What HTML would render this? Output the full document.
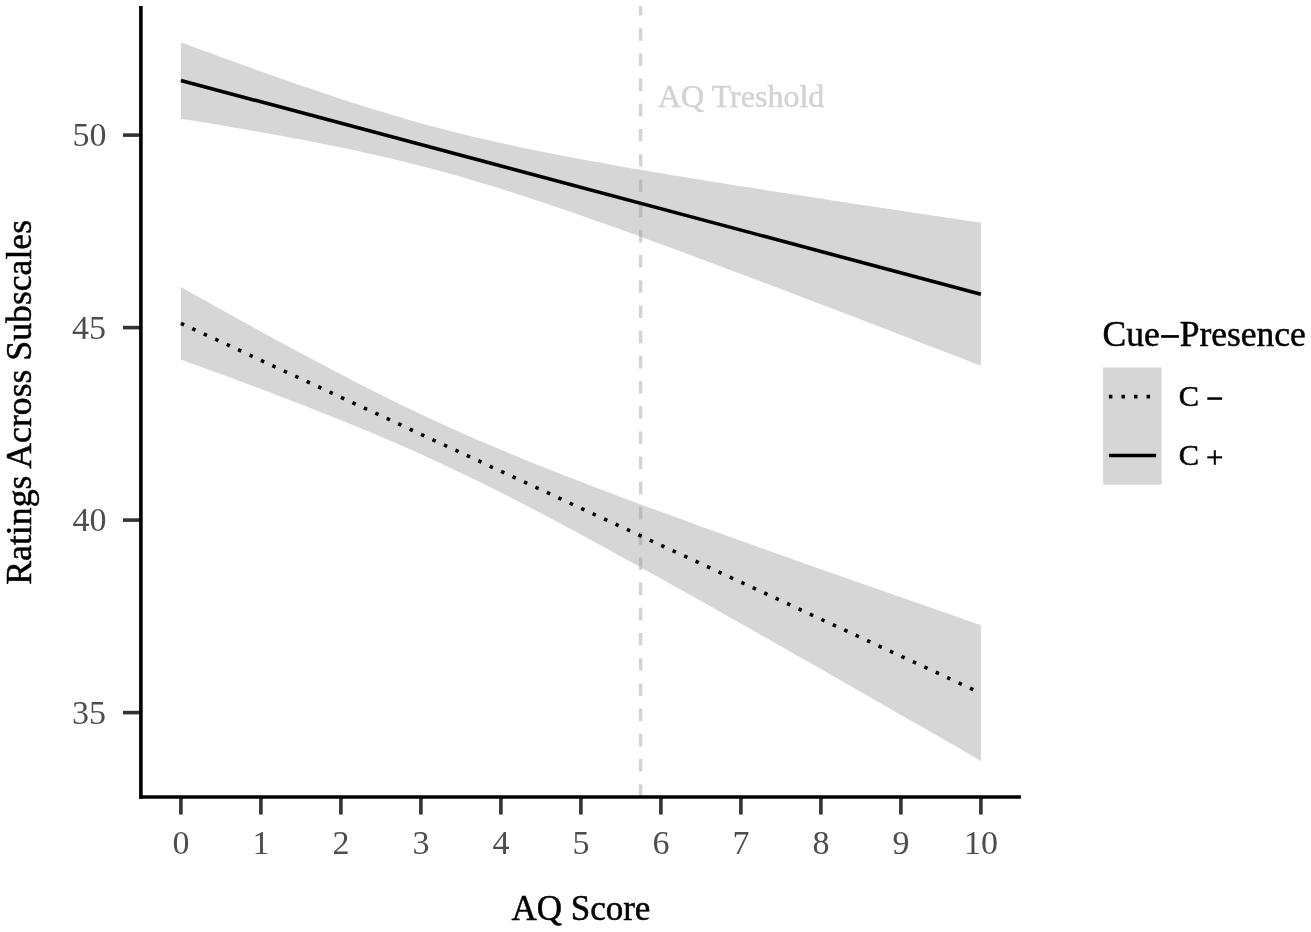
<!DOCTYPE html>
<html><head><meta charset="utf-8"><style>
html,body{margin:0;padding:0;background:#fff;}
body{width:1311px;height:932px;overflow:hidden;}
svg{display:block;will-change:transform;}
text{font-family:"Liberation Serif",serif;}
.b{stroke:#000;stroke-width:0.5;}
</style></head><body>
<svg width="1311" height="932" viewBox="0 0 1311 932">
<rect width="1311" height="932" fill="#fff"/>
<defs><clipPath id="pc"><rect x="140.9" y="6" width="880" height="791"/></clipPath></defs>
<g clip-path="url(#pc)">
<line x1="640.6" y1="796.8" x2="640.6" y2="0" stroke="#d3d3d3" stroke-width="3.4" stroke-dasharray="12.6 12.6"/>
<path d="M180.90,42.25 L190.90,45.95 L200.90,49.64 L210.90,53.31 L220.90,56.97 L230.90,60.61 L240.90,64.23 L250.90,67.83 L260.90,71.40 L270.90,74.96 L280.90,78.48 L290.90,81.97 L300.90,85.43 L310.90,88.86 L320.90,92.24 L330.90,95.58 L340.90,98.88 L350.90,102.13 L360.90,105.32 L370.90,108.46 L380.90,111.54 L390.90,114.55 L400.90,117.50 L410.90,120.38 L420.90,123.18 L430.90,125.92 L440.90,128.58 L450.90,131.17 L460.90,133.68 L470.90,136.13 L480.90,138.50 L490.90,140.81 L500.90,143.06 L510.90,145.25 L520.90,147.38 L530.90,149.46 L540.90,151.50 L550.90,153.48 L560.90,155.43 L570.90,157.34 L580.90,159.21 L590.90,161.05 L600.90,162.87 L610.90,164.65 L620.90,166.41 L630.90,168.15 L640.90,169.87 L650.90,171.57 L660.90,173.25 L670.90,174.91 L680.90,176.56 L690.90,178.20 L700.90,179.82 L710.90,181.44 L720.90,183.04 L730.90,184.63 L740.90,186.22 L750.90,187.79 L760.90,189.36 L770.90,190.92 L780.90,192.47 L790.90,194.02 L800.90,195.56 L810.90,197.09 L820.90,198.62 L830.90,200.15 L840.90,201.67 L850.90,203.19 L860.90,204.70 L870.90,206.21 L880.90,207.71 L890.90,209.22 L900.90,210.71 L910.90,212.21 L920.90,213.70 L930.90,215.19 L940.90,216.68 L950.90,218.17 L960.90,219.65 L970.90,221.13 L980.90,222.61 L980.90,365.79 L970.90,361.92 L960.90,358.06 L950.90,354.20 L940.90,350.34 L930.90,346.49 L920.90,342.63 L910.90,338.78 L900.90,334.94 L890.90,331.09 L880.90,327.25 L870.90,323.41 L860.90,319.58 L850.90,315.74 L840.90,311.92 L830.90,308.09 L820.90,304.28 L810.90,300.46 L800.90,296.65 L790.90,292.85 L780.90,289.05 L770.90,285.26 L760.90,281.48 L750.90,277.70 L740.90,273.93 L730.90,270.17 L720.90,266.42 L710.90,262.68 L700.90,258.95 L690.90,255.23 L680.90,251.52 L670.90,247.83 L660.90,244.15 L650.90,240.49 L640.90,236.85 L630.90,233.22 L620.90,229.61 L610.90,226.03 L600.90,222.47 L590.90,218.94 L580.90,215.44 L570.90,211.97 L560.90,208.53 L550.90,205.13 L540.90,201.78 L530.90,198.47 L520.90,195.20 L510.90,191.99 L500.90,188.84 L490.90,185.74 L480.90,182.71 L470.90,179.74 L460.90,176.84 L450.90,174.01 L440.90,171.26 L430.90,168.58 L420.90,165.97 L410.90,163.43 L400.90,160.96 L390.90,158.57 L380.90,156.24 L370.90,153.97 L360.90,151.76 L350.90,149.61 L340.90,147.52 L330.90,145.47 L320.90,143.47 L310.90,141.51 L300.90,139.59 L290.90,137.71 L280.90,135.86 L270.90,134.04 L260.90,132.25 L250.90,130.48 L240.90,128.73 L230.90,127.01 L220.90,125.31 L210.90,123.62 L200.90,121.95 L190.90,120.30 L180.90,118.65 Z" fill="#999" fill-opacity="0.4"/>
<path d="M180.90,287.05 L190.90,292.66 L200.90,298.25 L210.90,303.84 L220.90,309.40 L230.90,314.95 L240.90,320.48 L250.90,326.00 L260.90,331.49 L270.90,336.96 L280.90,342.40 L290.90,347.81 L300.90,353.20 L310.90,358.54 L320.90,363.86 L330.90,369.13 L340.90,374.36 L350.90,379.54 L360.90,384.68 L370.90,389.75 L380.90,394.78 L390.90,399.74 L400.90,404.63 L410.90,409.46 L420.90,414.23 L430.90,418.92 L440.90,423.54 L450.90,428.09 L460.90,432.57 L470.90,436.98 L480.90,441.33 L490.90,445.61 L500.90,449.83 L510.90,453.99 L520.90,458.10 L530.90,462.16 L540.90,466.18 L550.90,470.15 L560.90,474.08 L570.90,477.97 L580.90,481.83 L590.90,485.66 L600.90,489.47 L610.90,493.24 L620.90,496.99 L630.90,500.73 L640.90,504.44 L650.90,508.13 L660.90,511.81 L670.90,515.47 L680.90,519.12 L690.90,522.76 L700.90,526.38 L710.90,529.99 L720.90,533.60 L730.90,537.19 L740.90,540.77 L750.90,544.35 L760.90,547.92 L770.90,551.49 L780.90,555.04 L790.90,558.59 L800.90,562.14 L810.90,565.68 L820.90,569.21 L830.90,572.74 L840.90,576.27 L850.90,579.79 L860.90,583.31 L870.90,586.83 L880.90,590.34 L890.90,593.85 L900.90,597.36 L910.90,600.86 L920.90,604.36 L930.90,607.86 L940.90,611.35 L950.90,614.85 L960.90,618.34 L970.90,621.83 L980.90,625.32 L980.90,760.88 L970.90,755.13 L960.90,749.37 L950.90,743.62 L940.90,737.87 L930.90,732.12 L920.90,726.37 L910.90,720.63 L900.90,714.88 L890.90,709.15 L880.90,703.41 L870.90,697.68 L860.90,691.95 L850.90,686.22 L840.90,680.50 L830.90,674.78 L820.90,669.07 L810.90,663.36 L800.90,657.65 L790.90,651.95 L780.90,646.26 L770.90,640.57 L760.90,634.89 L750.90,629.21 L740.90,623.55 L730.90,617.89 L720.90,612.23 L710.90,606.59 L700.90,600.96 L690.90,595.34 L680.90,589.73 L670.90,584.13 L660.90,578.55 L650.90,572.98 L640.90,567.43 L630.90,561.90 L620.90,556.39 L610.90,550.89 L600.90,545.42 L590.90,539.98 L580.90,534.57 L570.90,529.18 L560.90,523.83 L550.90,518.52 L540.90,513.24 L530.90,508.01 L520.90,502.83 L510.90,497.69 L500.90,492.61 L490.90,487.59 L480.90,482.62 L470.90,477.72 L460.90,472.89 L450.90,468.13 L440.90,463.43 L430.90,458.81 L420.90,454.25 L410.90,449.77 L400.90,445.36 L390.90,441.01 L380.90,436.72 L370.90,432.50 L360.90,428.33 L350.90,424.22 L340.90,420.16 L330.90,416.14 L320.90,412.17 L310.90,408.24 L300.90,404.34 L290.90,400.48 L280.90,396.65 L270.90,392.85 L260.90,389.07 L250.90,385.32 L240.90,381.59 L230.90,377.87 L220.90,374.18 L210.90,370.50 L200.90,366.84 L190.90,363.19 L180.90,359.55 Z" fill="#999" fill-opacity="0.4"/>
<line x1="180.9" y1="80.45" x2="980.9" y2="294.2" stroke="#000" stroke-width="3.6"/>
<line x1="180.9" y1="323.3" x2="980.9" y2="693.1" stroke="#000" stroke-width="3.6" stroke-dasharray="3.5 9.1"/>
</g>
<text x="658" y="107.4" font-size="32" fill="#d3d3d3" stroke="#d3d3d3" stroke-width="0.5">AQ Treshold</text>
<!-- axes -->
<g stroke="#333" stroke-width="3.6">
<line x1="123" y1="135.1" x2="141" y2="135.1"/>
<line x1="123" y1="327.6" x2="141" y2="327.6"/>
<line x1="123" y1="520.1" x2="141" y2="520.1"/>
<line x1="123" y1="712.6" x2="141" y2="712.6"/>
<line x1="180.9" y1="797" x2="180.9" y2="814.6"/>
<line x1="260.9" y1="797" x2="260.9" y2="814.6"/>
<line x1="340.9" y1="797" x2="340.9" y2="814.6"/>
<line x1="420.9" y1="797" x2="420.9" y2="814.6"/>
<line x1="500.9" y1="797" x2="500.9" y2="814.6"/>
<line x1="580.9" y1="797" x2="580.9" y2="814.6"/>
<line x1="660.9" y1="797" x2="660.9" y2="814.6"/>
<line x1="740.9" y1="797" x2="740.9" y2="814.6"/>
<line x1="820.9" y1="797" x2="820.9" y2="814.6"/>
<line x1="900.9" y1="797" x2="900.9" y2="814.6"/>
<line x1="980.9" y1="797" x2="980.9" y2="814.6"/>
</g>
<line x1="140.9" y1="6" x2="140.9" y2="798.8" stroke="#000" stroke-width="3.6"/>
<line x1="139.1" y1="797" x2="1020.9" y2="797" stroke="#000" stroke-width="3.6"/>
<g font-size="34" fill="#4d4d4d">
<text x="106.5" y="146.4" text-anchor="end">50</text>
<text x="105.9" y="338.9" text-anchor="end">45</text>
<text x="106.5" y="531.4" text-anchor="end">40</text>
<text x="105.9" y="723.9" text-anchor="end">35</text>
<text x="180.9" y="854" text-anchor="middle">0</text>
<text x="260.9" y="854" text-anchor="middle">1</text>
<text x="340.9" y="854" text-anchor="middle">2</text>
<text x="420.9" y="854" text-anchor="middle">3</text>
<text x="500.9" y="854" text-anchor="middle">4</text>
<text x="580.9" y="854" text-anchor="middle">5</text>
<text x="660.9" y="854" text-anchor="middle">6</text>
<text x="740.9" y="854" text-anchor="middle">7</text>
<text x="820.9" y="854" text-anchor="middle">8</text>
<text x="900.9" y="854" text-anchor="middle">9</text>
<text x="980.9" y="854" text-anchor="middle">10</text>
</g>
<text class="b" x="580.9" y="920" font-size="35" text-anchor="middle" fill="#000">AQ Score</text>
<text class="b" transform="translate(30.5,402.3) rotate(-90)" font-size="35.7" text-anchor="middle" fill="#000">Ratings Across Subscales</text>
<text class="b" x="1102.5" y="346.3" font-size="35.5" fill="#000">Cue<tspan fill-opacity="0" stroke-opacity="0">&#8722;</tspan>Presence</text>
<rect x="1161.1" y="335.1" width="17.8" height="2.7" fill="#000"/>
<rect x="1103.1" y="367.5" width="58.6" height="117.2" fill="#999" fill-opacity="0.4"/>
<line x1="1108.9" y1="396.6" x2="1156.1" y2="396.6" stroke="#000" stroke-width="3.6" stroke-dasharray="3.5 9.05"/>
<line x1="1108.9" y1="455.5" x2="1156.1" y2="455.5" stroke="#000" stroke-width="3.6"/>
<text class="b" x="1178.8" y="406.3" font-size="30.4" fill="#000">C</text>
<text class="b" x="1178.8" y="465.2" font-size="30.4" fill="#000">C</text>
<rect x="1207.3" y="397.3" width="14.8" height="2.5" fill="#000"/>
<rect x="1207.3" y="456.3" width="14.8" height="2.1" fill="#000"/>
<rect x="1213.8" y="450.2" width="2.0" height="14.6" fill="#000"/>
</svg>
</body></html>
